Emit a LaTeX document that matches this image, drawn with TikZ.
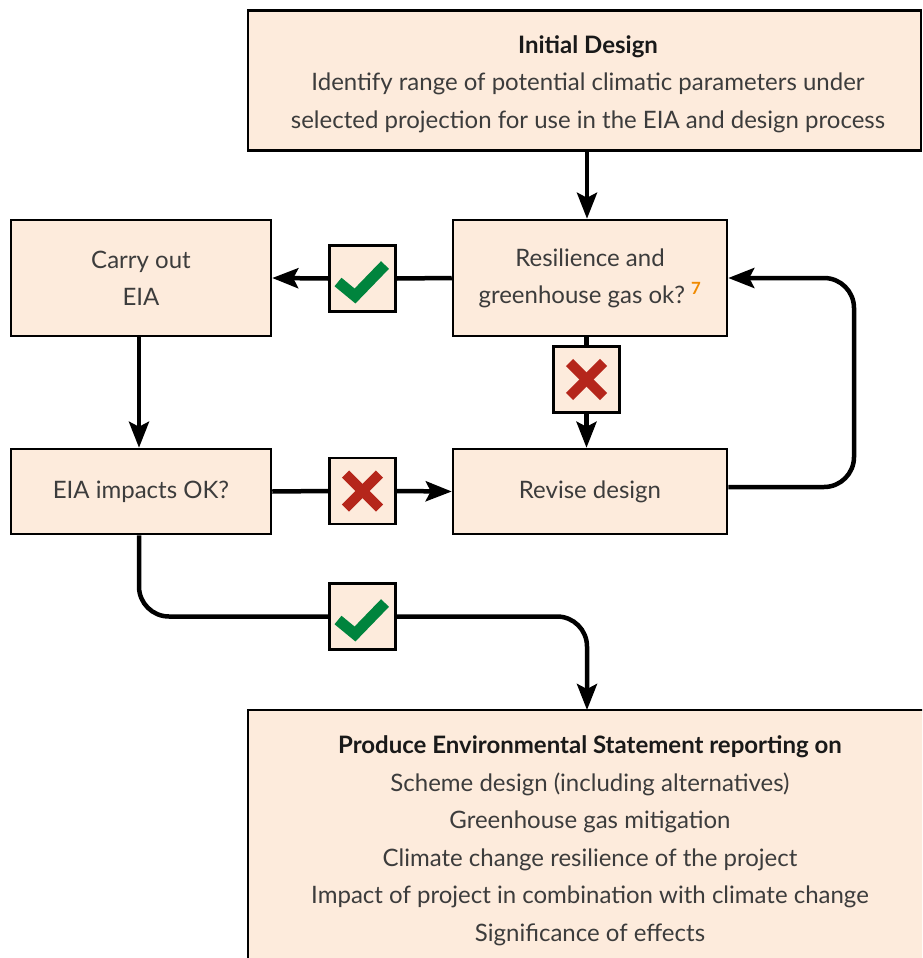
\documentclass[tikz,border=0pt]{standalone}
\usepackage{fontspec}
\setmainfont{Lato}
\usetikzlibrary{arrows.meta,calc}
\definecolor{peach}{HTML}{FDEBDC}
\definecolor{okgreen}{HTML}{00843D}
\definecolor{nored}{HTML}{B5261B}
\definecolor{txt}{HTML}{3C3C3C}
\definecolor{refor}{HTML}{F08A00}
\tikzset{
  box/.style={draw=black, line width=2.5pt, fill=peach, align=center, text=txt,
    font=\fontsize{24}{37}\selectfont, inner sep=0pt},
  boxtext/.style={align=center, text=txt, font=\fontsize{24}{37.5}\selectfont, inner sep=0pt},
  mark box/.style={draw=black, line width=2.5pt, fill=peach, minimum width=66pt, minimum height=66pt, inner sep=0pt},
  conn/.style={line width=4.5pt, draw=black},
  arr/.style={conn, -{Stealth[length=26pt, width=20pt, inset=5pt]}},
  tick/.style={line width=11pt, draw=okgreen},
  crossln/.style={line width=10pt, draw=nored}
}
\begin{document}
\begin{tikzpicture}[x=1pt,y=-1pt]
\useasboundingbox (0,0) rectangle (922,958);
\clip (0,0) rectangle (922,958);
\fill[white] (0,0) rectangle (922,958);

\node[box, minimum width=673pt, minimum height=140pt] (top) at (584.5,80.5) {};
\node[boxtext] (toptext) at (588,84)
  {\textbf{\color{black!90}Initial Design}\\Identify range of potential climatic parameters under\\selected projection for use in the EIA and design process};
\node[box, minimum width=274pt, minimum height=116pt] (res) at (590,278)
  {Resilience and\\greenhouse gas ok?~\textsuperscript{\textbf{\color{refor}7}}};
\node[box, minimum width=260pt, minimum height=116pt] (carry) at (141,278)
  {Carry out\\EIA};
\node[box, minimum width=260pt, minimum height=85pt] (eiaok) at (141,491.5)
  {EIA impacts OK?};
\node[box, minimum width=274pt, minimum height=85pt] (revise) at (590,491.5)
  {Revise design};
\node[box, minimum width=684pt, minimum height=300pt] (bot) at (590,860) {};
\node[boxtext] (bottext) at (590,841)
  {\textbf{\color{black!90}Produce Environmental Statement reporting on}\\
   Scheme design (including alternatives)\\
   Greenhouse gas mitigation\\
   Climate change resilience of the project\\
   Impact of project in combination with climate change\\
   Significance of effects};

\node[mark box] (m1) at (362.5,278.5) {};
\node[mark box] (m2) at (586.5,379.5) {};
\node[mark box] (m3) at (362.5,491) {};
\node[mark box] (m4) at (362.5,616.5) {};

% connectors
\draw[arr] (top.south -| 587,0) -- (res.north -| 587,0);
\draw[conn] (res.west) -- (m1.east);
\draw[arr] (m1.west) -- (carry.east);
\draw[conn] (res.south -| m2) -- (m2.north);
\draw[arr] (m2.south) -- (revise.north -| m2);
\draw[arr] (carry.south -| 139,0) -- (eiaok.north -| 139,0);
\draw[conn] (eiaok.east) -- (m3.west);
\draw[arr] (m3.east) -- (revise.west);
\coordinate (loopR) at (854,487);
\draw[arr, rounded corners=30pt] ($(revise.east)+(0,-4.5)$) -- (loopR) |- (res.east);
\coordinate (botin) at (587,710);
\draw[conn, rounded corners=30pt] (eiaok.south -| 139,0) |- (m4.west);
\draw[arr, rounded corners=30pt] (m4.east) -| (botin);

% ticks and crosses
\draw[tick] ($(m1)+(-24.5,3.5)$) -- ($(m1)+(-7.5,17.5)$) -- ($(m1)+(22.5,-13.5)$);
\draw[tick] ($(m4)+(-24.5,3.5)$) -- ($(m4)+(-7.5,17.5)$) -- ($(m4)+(22.5,-13.5)$);
\draw[crossln] ($(m2)+(-17,-17)$) -- ($(m2)+(17,17)$);
\draw[crossln] ($(m2)+(-17,17)$) -- ($(m2)+(17,-17)$);
\draw[crossln] ($(m3)+(-17,-17)$) -- ($(m3)+(17,17)$);
\draw[crossln] ($(m3)+(-17,17)$) -- ($(m3)+(17,-17)$);
\end{tikzpicture}
\end{document}
